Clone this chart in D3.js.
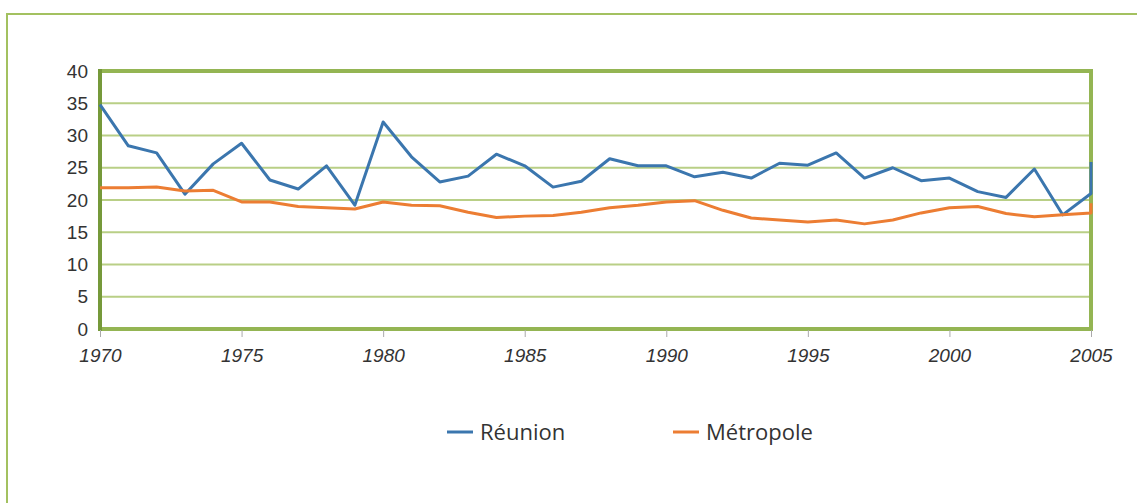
<!DOCTYPE html>
<html>
<head>
<meta charset="utf-8">
<script src="https://cdn.jsdelivr.net/npm/d3@7"></script>
<style>
  body { margin: 0; background: #fff; }
  svg { display: block; }
</style>
</head>
<body>
<div id="chart"></div>
<script>
// years (2005 listed twice: the source chart ends on a vertical jump at 2005)
const years = [1970, 1971, 1972, 1973, 1974, 1975, 1976, 1977, 1978, 1979,
  1980, 1981, 1982, 1983, 1984, 1985, 1986, 1987, 1988, 1989,
  1990, 1991, 1992, 1993, 1994, 1995, 1996, 1997, 1998, 1999,
  2000, 2001, 2002, 2003, 2004, 2005, 2005];

const reunion = [34.8, 28.4, 27.3, 20.9, 25.6, 28.8, 23.1, 21.7, 25.3, 19.2,
  32.1, 26.7, 22.8, 23.7, 27.1, 25.3, 22.0, 22.9, 26.4, 25.3,
  25.3, 23.6, 24.3, 23.4, 25.7, 25.4, 27.3, 23.4, 25.0, 23.0,
  23.4, 21.3, 20.4, 24.8, 17.7, 21.0, 25.9];

const metropole = [21.9, 21.9, 22.0, 21.4, 21.5, 19.7, 19.7, 19.0, 18.8, 18.6,
  19.7, 19.2, 19.1, 18.1, 17.3, 17.5, 17.6, 18.1, 18.8, 19.2,
  19.7, 19.9, 18.4, 17.2, 16.9, 16.6, 16.9, 16.3, 16.9, 18.0,
  18.8, 19.0, 17.9, 17.4, 17.7, 18.0, 19.5];

const yTicks = [0, 5, 10, 15, 20, 25, 30, 35, 40];
const xTicks = [1970, 1975, 1980, 1985, 1990, 1995, 2000, 2005];

const series = [
  { name: "Réunion", values: reunion, color: "#3b76ae" },
  { name: "Métropole", values: metropole, color: "#ec7d33" }
];

const width = 1137, height = 503;
const margin = { left: 100, right: 46, top: 71, bottom: 174 };

const svg = d3.select("#chart").append("svg")
  .attr("width", width)
  .attr("height", height);

// outer frame
svg.append("rect")
  .attr("x", 7).attr("y", 14)
  .attr("width", width + 20).attr("height", height + 20)
  .attr("fill", "none")
  .attr("stroke", "#a3c160")
  .attr("stroke-width", 2);

const x = d3.scaleLinear()
  .domain([1970, 2005])
  .range([margin.left, width - margin.right]);

const y = d3.scaleLinear()
  .domain([0, 40])
  .range([height - margin.bottom, margin.top]);

// gridlines
svg.append("g")
  .selectAll("line")
  .data(yTicks.filter(d => d > 0 && d < 40))
  .join("line")
  .attr("x1", x(1970)).attr("x2", x(2005))
  .attr("y1", d => y(d)).attr("y2", d => y(d))
  .attr("stroke", "#b9cf86")
  .attr("stroke-width", 2);

// plot frame
svg.append("rect")
  .attr("x", x(1970)).attr("y", y(40))
  .attr("width", x(2005) - x(1970))
  .attr("height", y(0) - y(40))
  .attr("fill", "none")
  .attr("stroke", "#94b553")
  .attr("stroke-width", 4);

// y axis line, a little darker
svg.append("line")
  .attr("x1", x(1970)).attr("x2", x(1970))
  .attr("y1", y(40) - 2).attr("y2", y(0) + 2)
  .attr("stroke", "#76993a")
  .attr("stroke-width", 4);

// y axis labels
const yAxis = d3.axisLeft(y).tickValues(yTicks).tickSize(0).tickPadding(12);
svg.append("g")
  .attr("transform", `translate(${x(1970)},0)`)
  .call(yAxis)
  .call(g => g.select(".domain").remove())
  .call(g => g.selectAll("text")
    .attr("font-family", "Liberation Sans, Arial, sans-serif")
    .attr("font-size", 19)
    .attr("fill", "#333"));

// x axis ticks + labels
const xAxis = d3.axisBottom(x).tickValues(xTicks).tickSize(7).tickPadding(12)
  .tickFormat(d3.format("d"));
svg.append("g")
  .attr("transform", `translate(0,${y(0) + 1})`)
  .call(xAxis)
  .call(g => g.select(".domain").remove())
  .call(g => g.selectAll("line").attr("stroke", "#aaa"))
  .call(g => g.selectAll("text")
    .attr("font-family", "Liberation Sans, Arial, sans-serif")
    .attr("font-style", "italic")
    .attr("font-size", 19)
    .attr("fill", "#333"));

// lines
const line = d3.line()
  .x((d, i) => x(years[i]))
  .y(d => y(d));

svg.append("g")
  .selectAll("path")
  .data(series)
  .join("path")
  .attr("d", d => line(d.values))
  .attr("fill", "none")
  .attr("stroke", d => d.color)
  .attr("stroke-width", 3)
  .attr("stroke-linejoin", "round");

// legend
const legendX = [447, 673];
const legend = svg.append("g")
  .selectAll("g")
  .data(series)
  .join("g")
  .attr("transform", (d, i) => `translate(${legendX[i]},432)`);

legend.append("line")
  .attr("x1", 0).attr("x2", 26)
  .attr("stroke", d => d.color)
  .attr("stroke-width", 3);

legend.append("text")
  .attr("x", 33)
  .attr("dy", "0.35em")
  .attr("font-family", "Open Sans, sans-serif")
  .attr("font-size", 22)
  .attr("fill", "#333")
  .text(d => d.name);
</script>
</body>
</html>
